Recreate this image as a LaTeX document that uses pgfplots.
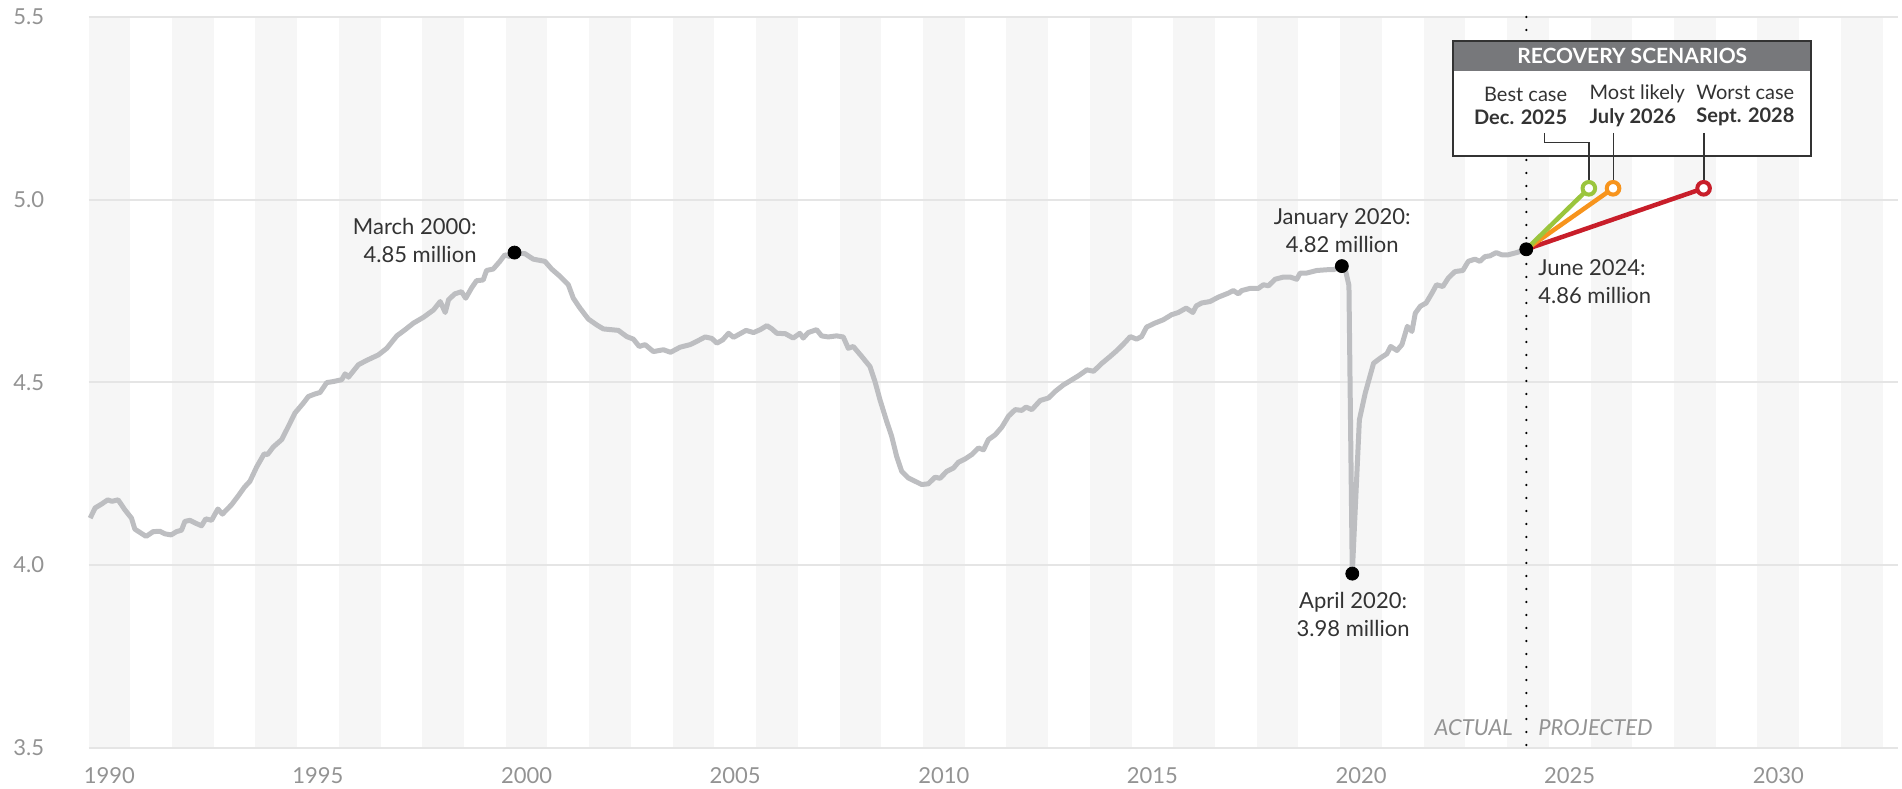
\documentclass[border=0pt]{standalone}
\usepackage{fontspec}
\setmainfont{Lato}
\usepackage{pgfplots}
\pgfplotsset{compat=1.18}

\definecolor{band}{HTML}{F6F6F6}
\definecolor{gridc}{HTML}{E5E5E5}
\definecolor{linec}{HTML}{BDBEC1}
\definecolor{tickc}{HTML}{939393}
\definecolor{txt}{HTML}{333333}
\definecolor{head}{HTML}{77787B}
\definecolor{best}{HTML}{9BC53D}
\definecolor{likely}{HTML}{F7941D}
\definecolor{worst}{HTML}{C81E2A}

\begin{document}
\begin{tikzpicture}
\begin{axis}[
  name=ax,
  set layers,
  scale only axis,
  width=904.75pt, height=365.25pt,
  xmin=1990, xmax=2033.37,
  ymin=3.5, ymax=5.5,
  clip=false,
  axis line style={draw=none},
  tick style={draw=none},
  xtick={1990.5,1995.5,2000.5,2005.5,2010.5,2015.5,2020.5,2025.5,2030.5},
  xticklabels={1990,1995,2000,2005,2010,2015,2020,2025,2030},
  ytick={3.5,4.0,4.5,5.0,5.5},
  yticklabels={3.5,4.0,4.5,5.0,5.5},
  ymajorgrids,
  major grid style={gridc, line width=1pt},
  tick label style={font=\fontsize{11}{13}\selectfont, text=tickc},
  xticklabel style={anchor=north, inner sep=0pt, yshift=-9.75pt},
  yticklabel style={anchor=west, inner sep=0pt, xshift=-37.75pt},
  /pgf/number format/assume math mode=true,
]

\begin{pgfonlayer}{axis background}
  \pgfplotsinvokeforeach{1990,1992,...,2032}{
    \fill[band] (axis cs:#1,3.5) rectangle (axis cs:#1+1,5.5);
  }
\end{pgfonlayer}

% divider between actual and projected
\draw[black, line width=1.25pt, line cap=round, dash pattern=on 0pt off 6.5pt]
  (axis cs:2024.46,5.5) -- (axis cs:2024.46,3.495);

\addplot[linec, line width=2.5pt, line join=round] table {
1990.04 4.128
1990.16 4.156
1990.32 4.167
1990.46 4.178
1990.56 4.174
1990.71 4.178
1990.87 4.151
1991.03 4.128
1991.11 4.098
1991.23 4.089
1991.38 4.078
1991.55 4.091
1991.71 4.092
1991.83 4.085
1991.98 4.082
1992.11 4.091
1992.23 4.095
1992.31 4.119
1992.43 4.122
1992.55 4.115
1992.71 4.107
1992.81 4.126
1992.95 4.122
1993.10 4.153
1993.21 4.139
1993.43 4.165
1993.59 4.189
1993.74 4.213
1993.87 4.229
1994.03 4.268
1994.21 4.304
1994.29 4.302
1994.43 4.323
1994.63 4.343
1994.79 4.379
1994.95 4.416
1995.15 4.443
1995.27 4.461
1995.43 4.468
1995.55 4.472
1995.71 4.499
1995.87 4.502
1996.07 4.507
1996.15 4.523
1996.23 4.514
1996.47 4.548
1996.67 4.560
1996.95 4.575
1997.15 4.593
1997.39 4.627
1997.59 4.644
1997.79 4.662
1998.03 4.678
1998.27 4.698
1998.43 4.721
1998.55 4.691
1998.63 4.726
1998.78 4.742
1998.94 4.748
1999.04 4.730
1999.18 4.758
1999.30 4.778
1999.46 4.780
1999.54 4.806
1999.70 4.810
1999.86 4.831
1999.98 4.849
2000.10 4.844
2000.21 4.855
2000.46 4.852
2000.66 4.837
2000.94 4.831
2001.10 4.810
2001.30 4.790
2001.50 4.767
2001.62 4.730
2001.78 4.703
2001.98 4.673
2002.18 4.657
2002.34 4.646
2002.70 4.642
2002.90 4.625
2003.06 4.618
2003.20 4.598
2003.34 4.603
2003.54 4.584
2003.78 4.589
2003.95 4.582
2004.18 4.596
2004.42 4.603
2004.58 4.612
2004.78 4.624
2004.94 4.620
2005.06 4.607
2005.20 4.616
2005.34 4.634
2005.46 4.623
2005.62 4.633
2005.76 4.642
2005.94 4.636
2006.10 4.644
2006.26 4.655
2006.38 4.646
2006.50 4.634
2006.70 4.633
2006.89 4.621
2007.05 4.634
2007.13 4.621
2007.25 4.636
2007.45 4.644
2007.57 4.627
2007.73 4.624
2007.93 4.627
2008.09 4.624
2008.21 4.593
2008.33 4.598
2008.53 4.571
2008.73 4.543
2008.85 4.502
2008.97 4.452
2009.13 4.393
2009.25 4.352
2009.37 4.297
2009.49 4.256
2009.65 4.238
2009.81 4.229
2009.97 4.220
2010.13 4.222
2010.29 4.240
2010.41 4.237
2010.57 4.256
2010.73 4.265
2010.85 4.281
2011.01 4.290
2011.17 4.302
2011.33 4.320
2011.45 4.315
2011.57 4.343
2011.73 4.356
2011.89 4.377
2012.05 4.407
2012.21 4.425
2012.37 4.423
2012.47 4.432
2012.61 4.425
2012.81 4.450
2013.01 4.457
2013.17 4.475
2013.37 4.493
2013.53 4.504
2013.73 4.518
2013.93 4.534
2014.09 4.530
2014.29 4.552
2014.49 4.571
2014.65 4.587
2014.81 4.605
2014.97 4.625
2015.12 4.618
2015.24 4.625
2015.36 4.651
2015.56 4.662
2015.76 4.671
2015.96 4.685
2016.12 4.691
2016.31 4.703
2016.47 4.691
2016.55 4.709
2016.68 4.717
2016.88 4.721
2017.08 4.733
2017.32 4.744
2017.44 4.751
2017.56 4.742
2017.64 4.751
2017.84 4.757
2018.04 4.757
2018.16 4.767
2018.28 4.764
2018.44 4.782
2018.64 4.788
2018.80 4.788
2018.96 4.782
2019.04 4.799
2019.20 4.799
2019.44 4.806
2019.68 4.808
2019.84 4.808
2020.04 4.818
2020.13 4.805
2020.21 4.765
2020.29 3.976
2020.46 4.397
2020.60 4.470
2020.80 4.552
2020.96 4.566
2021.12 4.578
2021.21 4.598
2021.36 4.587
2021.48 4.603
2021.61 4.653
2021.72 4.639
2021.80 4.689
2021.92 4.708
2022.06 4.717
2022.20 4.744
2022.31 4.767
2022.46 4.762
2022.59 4.785
2022.75 4.803
2022.94 4.806
2023.07 4.831
2023.23 4.837
2023.35 4.831
2023.47 4.844
2023.59 4.846
2023.74 4.855
2023.87 4.849
2024.03 4.849
2024.23 4.855
2024.46 4.864
};

% recovery box
\fill[white] (axis cs:2022.70,5.120) rectangle (axis cs:2031.28,5.434);
\fill[head] (axis cs:2022.70,5.353) rectangle (axis cs:2031.28,5.434);
\draw[txt, line width=0.75pt] (axis cs:2022.70,5.120) rectangle (axis cs:2031.28,5.434);
\node[text=white, font=\fontsize{10.5}{12}\selectfont\bfseries, inner sep=0pt]
  at (axis cs:2027.0,5.394) {RECOVERY SCENARIOS};
\node[text=txt, font=\fontsize{10}{11.75}\selectfont, align=right, anchor=east, inner sep=0pt]
  at (axis cs:2025.45,5.257) {Best case\\\textbf{Dec. 2025}};
\node[text=txt, font=\fontsize{10}{11.75}\selectfont, align=left, anchor=west, inner sep=0pt]
  at (axis cs:2025.97,5.257) {Most likely\\\textbf{July 2026}};
\node[text=txt, font=\fontsize{10}{11.75}\selectfont, align=left, anchor=west, inner sep=0pt]
  at (axis cs:2028.53,5.257) {Worst case\\\textbf{Sept. 2028}};
\draw[txt, line width=0.65pt] (axis cs:2024.895,5.183) -- (axis cs:2024.895,5.156)
  -- (axis cs:2025.96,5.156) -- (axis cs:2025.96,5.053);
\draw[txt, line width=0.65pt] (axis cs:2026.55,5.183) -- (axis cs:2026.55,5.053);
\draw[txt, line width=0.65pt] (axis cs:2028.72,5.183) -- (axis cs:2028.72,5.053);

% projections
\addplot[worst, line width=2.25pt, mark=*, mark indices={2}, mark size=3.15pt,
  mark options={fill=white, draw=worst, line width=2pt}]
  coordinates {(2024.46,4.864) (2028.71,5.031)};
\addplot[likely, line width=2.25pt, mark=*, mark indices={2}, mark size=3.15pt,
  mark options={fill=white, draw=likely, line width=2pt}]
  coordinates {(2024.46,4.864) (2026.54,5.031)};
\addplot[best, line width=2.25pt, mark=*, mark indices={2}, mark size=3.15pt,
  mark options={fill=white, draw=best, line width=2pt}]
  coordinates {(2024.46,4.864) (2025.96,5.031)};

% highlighted points
\addplot[only marks, mark=*, mark size=3.25pt, black]
  coordinates {(2000.21,4.855) (2020.04,4.818) (2020.29,3.976) (2024.46,4.864)};

% annotations
\node[text=txt, font=\fontsize{11}{14}\selectfont, align=right, anchor=east, inner sep=0pt]
  at (axis cs:1999.31,4.887) {March 2000:\\4.85 million};
\node[text=txt, font=\fontsize{11}{14}\selectfont, align=center, inner sep=0pt]
  at (axis cs:2020.05,4.916) {January 2020:\\4.82 million};
\node[text=txt, font=\fontsize{11}{14}\selectfont, align=center, inner sep=0pt]
  at (axis cs:2020.31,3.865) {April 2020:\\3.98 million};
\node[text=txt, font=\fontsize{11}{14}\selectfont, align=left, anchor=west, inner sep=0pt]
  at (axis cs:2024.74,4.776) {June 2024:\\4.86 million};
\node[text=tickc, font=\fontsize{11}{13}\selectfont\itshape, anchor=east, inner sep=0pt]
  at (axis cs:2024.15,3.555) {ACTUAL};
\node[text=tickc, font=\fontsize{11}{13}\selectfont\itshape, anchor=west, inner sep=0pt]
  at (axis cs:2024.74,3.555) {PROJECTED};
\end{axis}
\path ([shift={(-44.25pt,-20.25pt)}]ax.south west) rectangle ([shift={(2pt,8.5pt)}]ax.north east);
\end{tikzpicture}
\end{document}
